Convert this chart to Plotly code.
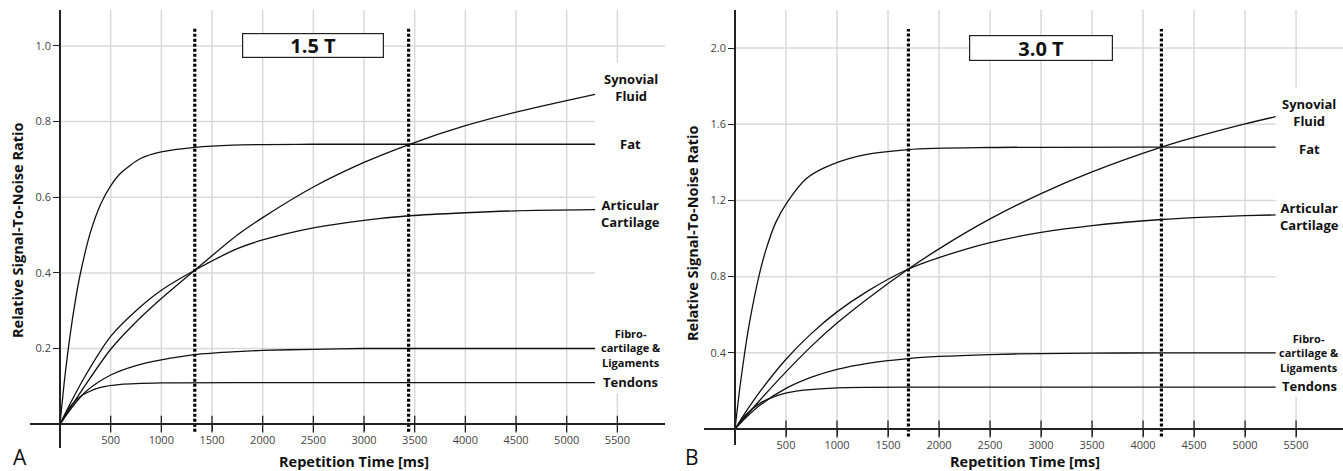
import plotly.graph_objects as go

# ---------------- data: panel A (1.5 T) ----------------
tr_a = [0, 100, 250, 500, 750, 1000, 1330, 1750, 2000, 2500, 3000, 3450, 4000, 4500, 5280]
synovial_a = [0, 0.042, 0.103, 0.198, 0.27, 0.332, 0.407, 0.50, 0.546, 0.627, 0.692, 0.74, 0.789, 0.825, 0.872]
articular_a = [0, 0.054, 0.128, 0.232, 0.30, 0.354, 0.407, 0.464, 0.487, 0.519, 0.539, 0.551, 0.559, 0.564, 0.567]
fibro_a = [0, 0.038, 0.085, 0.13, 0.155, 0.17, 0.184, 0.192, 0.195, 0.198, 0.2, 0.2, 0.2, 0.2, 0.2]
tr_fat_a = [0, 50, 100, 150, 200, 300, 400, 500, 600, 800, 1000, 1330, 1700, 2500, 5280]
fat_a = [0, 0.13, 0.236, 0.324, 0.397, 0.507, 0.581, 0.63, 0.664, 0.703, 0.72, 0.732, 0.738, 0.74, 0.74]
tr_tendon_a = [0, 100, 200, 280, 400, 600, 1000, 2000, 5280]
tendon_a = [0, 0.046, 0.073, 0.085, 0.097, 0.105, 0.109, 0.11, 0.11]
cutoff_a = [1330, 3440]

# ---------------- data: panel B (3.0 T) ----------------
tr_b = [0, 100, 250, 500, 750, 1000, 1300, 1700, 2000, 2500, 3000, 3500, 4180, 4500, 5000, 5300]
synovial_b = [0, 0.063, 0.155, 0.30, 0.435, 0.556, 0.684, 0.84, 0.946, 1.103, 1.236, 1.35, 1.48, 1.531, 1.602, 1.64]
articular_b = [0, 0.085, 0.20, 0.366, 0.502, 0.615, 0.724, 0.84, 0.90, 0.979, 1.032, 1.068, 1.10, 1.11, 1.12, 1.124]
fibro_b = [0, 0.056, 0.127, 0.213, 0.272, 0.313, 0.345, 0.37, 0.381, 0.391, 0.396, 0.398, 0.40, 0.40, 0.40, 0.40]
tr_fat_b = [0, 50, 100, 150, 229, 300, 400, 524, 700, 868, 1200, 1700, 2500, 5300]
fat_b = [0, 0.227, 0.419, 0.582, 0.79, 0.935, 1.085, 1.2, 1.315, 1.37, 1.432, 1.467, 1.478, 1.48]
tr_tendon_b = [0, 100, 250, 426, 600, 1000, 2000, 5300]
tendon_b = [0, 0.071, 0.137, 0.178, 0.199, 0.216, 0.22, 0.22]
cutoff_b = [1700, 4180]

# ---------------- ticks / labels ----------------
x_ticks = [500, 1000, 1500, 2000, 2500, 3000, 3500, 4000, 4500, 5000, 5500]
y_ticks_a = [0.2, 0.4, 0.6, 0.8, 1.0]
y_ticks_b = [0.4, 0.8, 1.2, 1.6, 2.0]
tissue_labels = ["Synovial<br>Fluid", "Fat", "Articular<br>Cartilage",
                 "Fibro-<br>cartilage &<br>Ligaments", "Tendons"]
label_y_a = [0.889, 0.74, 0.558, 0.201, 0.111]
label_y_b = [1.664, 1.47, 1.118, 0.40, 0.225]
field_a = "1.5 T"
field_b = "3.0 T"

FONT = "Open Sans"
W, H = 1343, 471

xr_a = [-300, 5970]
yr_a = [-0.063, 1.095]
xr_b = [-300, 5960]
yr_b = [-0.084, 2.2]

fig = go.Figure()

curve = dict(color="#111", width=1.3, shape="spline", smoothing=0.8)


def add_panel(xa, ya, series, cutoffs, ytop, ybot):
    for xs, ys in series:
        fig.add_trace(go.Scatter(x=xs, y=ys, mode="lines", line=curve,
                                 xaxis=xa, yaxis=ya, hoverinfo="skip", showlegend=False))
    for c in cutoffs:
        fig.add_trace(go.Scatter(x=[c, c], y=[ybot, ytop], mode="lines",
                                 line=dict(color="#000", width=3.2, dash="3px,2px"),
                                 xaxis=xa, yaxis=ya, hoverinfo="skip", showlegend=False))
    # crossing tick marks on x axis
    fig.add_trace(go.Scatter(x=x_ticks, y=[0] * len(x_ticks), mode="markers",
                             marker=dict(symbol="line-ns", size=12,
                                         line=dict(color="#222", width=1.3)),
                             xaxis=xa, yaxis=ya, hoverinfo="skip", showlegend=False,
                             cliponaxis=False))


add_panel("x", "y", [(tr_a, synovial_a), (tr_a, articular_a), (tr_a, fibro_a),
                     (tr_fat_a, fat_a), (tr_tendon_a, tendon_a)], cutoff_a, 1.05, -0.02)
add_panel("x2", "y2", [(tr_b, synovial_b), (tr_b, articular_b), (tr_b, fibro_b),
                       (tr_fat_b, fat_b), (tr_tendon_b, tendon_b)], cutoff_b, 2.1, -0.04)

GRID = "#d9d9d9"
shapes = []


def grid(xref, yref, yticks, xr, yr, curve_end, mask_y):
    for xv in x_ticks:
        shapes.append(dict(type="line", xref=xref, yref=yref, x0=xv, x1=xv, y0=0, y1=yr[1],
                           line=dict(color=GRID, width=1.5), layer="below"))
    for yv in yticks:
        x1 = xr[1] if yv == yticks[-1] else curve_end
        shapes.append(dict(type="line", xref=xref, yref=yref, x0=0, x1=x1, y0=yv, y1=yv,
                           line=dict(color=GRID, width=1.5), layer="below"))
    shapes.append(dict(type="rect", xref=xref, yref=yref, x0=5420, x1=5580,
                       y0=mask_y[0], y1=mask_y[1], fillcolor="white",
                       line=dict(width=0), layer="below"))


grid("x", "y", y_ticks_a, xr_a, yr_a, tr_a[-1], [0.082, 0.955])
grid("x2", "y2", y_ticks_b, xr_b, yr_b, tr_b[-1], [0.168, 1.79])

annotations = []
label_x = 5630
for i, txt in enumerate(tissue_labels):
    small = txt.startswith("Fibro")
    size = 11 if small else 13
    for xref, yref, ly in (("x", "y", label_y_a), ("x2", "y2", label_y_b)):
        annotations.append(dict(x=label_x, y=ly[i], xref=xref, yref=yref, text="<b>%s</b>" % txt,
                                showarrow=False, xanchor="center", yanchor="middle",
                                font=dict(family=FONT, size=size, color="#111"), align="center"))

annotations.append(dict(x=2500, y=1.0, xref="x", yref="y", text="<b>%s</b>" % field_a,
                        showarrow=False, width=140, height=23, bgcolor="white",
                        bordercolor="#222", borderwidth=1.2, borderpad=0,
                        xanchor="center", yanchor="middle",
                        font=dict(family=FONT, size=20, color="#111")))
annotations.append(dict(x=3000, y=2.0, xref="x2", yref="y2", text="<b>%s</b>" % field_b,
                        showarrow=False, width=142, height=24, bgcolor="white",
                        bordercolor="#222", borderwidth=1.2, borderpad=0,
                        xanchor="center", yanchor="middle",
                        font=dict(family=FONT, size=20, color="#111")))

ytitle = "<b>Relative Signal-To-Noise Ratio</b>"
xtitle = "<b>Repetition Time [ms]</b>"
for px, py in ((17, 231), (692, 234)):
    annotations.append(dict(x=px / W, y=1 - py / H, xref="paper", yref="paper", text=ytitle,
                            textangle=-90, showarrow=False, xanchor="center", yanchor="middle",
                            font=dict(family=FONT, size=14.5, color="#111")))
for px, py in ((354, 461), (1025, 461)):
    annotations.append(dict(x=px / W, y=1 - py / H, xref="paper", yref="paper", text=xtitle,
                            showarrow=False, xanchor="center", yanchor="middle",
                            font=dict(family=FONT, size=14.5, color="#111")))
for txt, px, py in (("A", 20, 457), ("B", 692, 457)):
    annotations.append(dict(x=px / W, y=1 - py / H, xref="paper", yref="paper", text=txt,
                            showarrow=False, xanchor="center", yanchor="middle",
                            font=dict(family=FONT, size=21, color="#111")))

axis_common = dict(showgrid=False, zeroline=False, showline=True, linecolor="#222",
                   linewidth=1.5, ticks="outside", ticklen=6, tickwidth=1.3, tickcolor="#222",
                   tickfont=dict(family=FONT, size=11, color="#444"), fixedrange=True,
                   automargin=False)

fig.update_layout(
    width=W, height=H,
    margin=dict(l=0, r=0, t=0, b=0, pad=0, autoexpand=False),
    paper_bgcolor="white", plot_bgcolor="rgba(0,0,0,0)",
    showlegend=False,
    xaxis=dict(axis_common, domain=[29.6 / W, 665 / W], range=xr_a, anchor="free",
               position=1 - 424 / H, tickvals=x_ticks, ticktext=[str(v) for v in x_ticks]),
    yaxis=dict(axis_common, domain=[1 - 448 / H, 1 - 10 / H], range=yr_a, anchor="free",
               position=60 / W, tickvals=y_ticks_a, ticktext=["%.1f" % v for v in y_ticks_a]),
    xaxis2=dict(axis_common, domain=[704.4 / W, 1.0], range=xr_b, anchor="free",
                position=1 - 429 / H, tickvals=x_ticks, ticktext=[str(v) for v in x_ticks]),
    yaxis2=dict(axis_common, domain=[1 - 445 / H, 1 - 10 / H], range=yr_b, anchor="free",
                position=735 / W, tickvals=y_ticks_b, ticktext=["%.1f" % v for v in y_ticks_b]),
    shapes=shapes,
    annotations=annotations,
)

fig.write_html("out.html", config={"displayModeBar": False},
               post_script="document.body.style.margin='0';document.body.style.overflow='hidden';")
